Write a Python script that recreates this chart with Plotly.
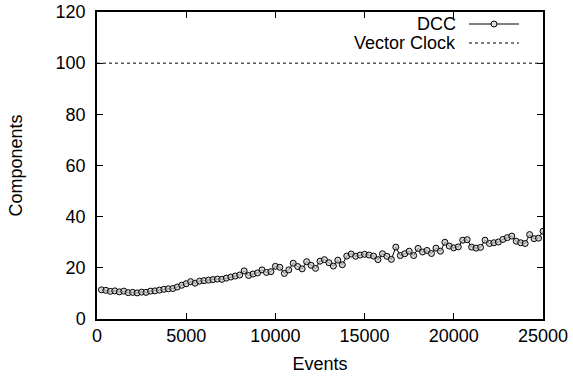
import plotly.graph_objects as go

events = [250 * i for i in range(1, 101)]
dcc = [
    11.4, 11.2, 10.8, 11.0, 10.6, 10.9, 10.3, 10.4, 10.2, 10.5,
    10.4, 10.9, 11.0, 11.3, 11.6, 11.8, 11.9, 12.5, 13.2, 13.8,
    14.6, 14.0, 14.8, 15.0, 15.2, 15.4, 15.6, 15.5, 16.0, 16.4,
    16.8, 17.2, 18.8, 17.0, 17.6, 18.0, 19.2, 18.2, 18.5, 20.6,
    20.2, 17.8, 19.2, 21.8, 20.5, 19.6, 22.4, 21.0, 19.8, 22.6,
    23.2, 22.0, 20.7, 23.0, 21.2, 24.6, 25.4, 24.5, 25.0, 25.3,
    25.0, 24.6, 23.2, 25.5, 24.5, 23.3, 28.1, 24.8, 25.5, 26.5,
    24.8, 27.6, 26.2, 26.8, 25.6, 27.7, 26.5, 30.0, 28.5, 27.8,
    28.2, 30.8, 31.0, 28.1, 27.7, 28.0, 30.8, 29.5, 29.8, 30.1,
    31.1, 31.8, 32.4, 30.4, 29.8, 29.5, 33.0, 31.4, 31.6, 34.3,
]
vector_clock = 100
x_range = [0, 25000]
y_range = [0, 120]
x_label = "Events"
y_label = "Components"
legend_names = ["DCC", "Vector Clock"]

FONT = "Liberation Sans, Arial, sans-serif"
FS = 18

fig = go.Figure()
fig.add_trace(go.Scatter(
    x=events, y=dcc, mode="lines+markers", name=legend_names[0],
    line=dict(color="black", width=1),
    marker=dict(symbol="circle", size=6, color="rgba(200,200,200,0.7)",
                line=dict(color="black", width=1)),
    showlegend=False,
))
fig.add_trace(go.Scatter(
    x=x_range, y=[vector_clock, vector_clock], mode="lines", name=legend_names[1],
    line=dict(color="black", width=1, dash="dot"),
    showlegend=False,
))

# gnuplot-style legend: text right-aligned, sample to the right
L, R, T, B = 97, 30, 12, 61
W, H = 573, 380
pw, ph = W - L - R, H - T - B

def px_to_paper_x(px):
    return (px - L) / pw

def px_to_paper_y(py):
    return (H - B - py) / ph

for i, (name, ypx) in enumerate(zip(legend_names, [24, 43])):
    fig.add_annotation(
        x=px_to_paper_x(458), y=px_to_paper_y(ypx), xref="paper", yref="paper",
        text=name, showarrow=False, xanchor="right", yanchor="middle",
        font=dict(family=FONT, size=FS, color="black"),
    )
    fig.add_shape(
        type="line", xref="paper", yref="paper",
        x0=px_to_paper_x(469), x1=px_to_paper_x(519),
        y0=px_to_paper_y(ypx), y1=px_to_paper_y(ypx),
        line=dict(color="black", width=1, dash="solid" if i == 0 else "dot"),
    )
cx, cy, r = 494, 24, 3
fig.add_shape(
    type="circle", xref="paper", yref="paper",
    x0=px_to_paper_x(cx - r), x1=px_to_paper_x(cx + r),
    y0=px_to_paper_y(cy + r), y1=px_to_paper_y(cy - r),
    line=dict(color="black", width=1), fillcolor="rgb(220,220,220)",
)

axis_common = dict(
    showline=True, linecolor="black", linewidth=1.5, mirror="ticks",
    ticks="inside", ticklen=6, tickwidth=1, tickcolor="black",
    showgrid=False, zeroline=False, automargin=False,
    tickfont=dict(family=FONT, size=FS, color="black"),
    title_font=dict(family=FONT, size=FS, color="black"),
)

fig.update_xaxes(range=x_range, dtick=5000, tickformat="d", title_text=x_label,
                 title_standoff=12, **axis_common)
fig.update_yaxes(range=y_range, dtick=20, tickformat="d", title_text=y_label,
                 ticklabelstandoff=6, title_standoff=28, **axis_common)

fig.update_layout(
    width=W, height=H,
    margin=dict(l=L, r=R, t=T, b=B),
    plot_bgcolor="white", paper_bgcolor="white",
    font=dict(family=FONT, size=FS, color="black"),
)

fig.write_html("out.html")
